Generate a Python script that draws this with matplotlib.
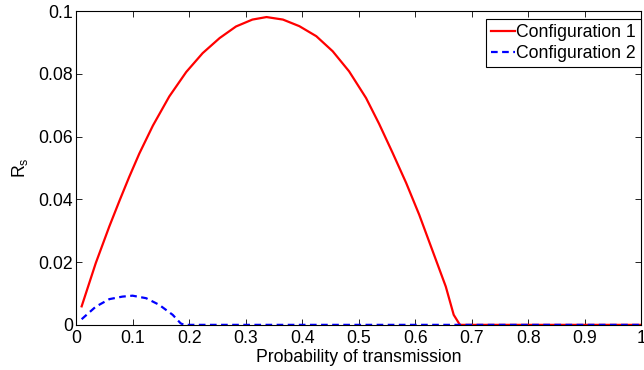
import numpy as np
import matplotlib
matplotlib.use("Agg")
import matplotlib.pyplot as plt

plt.rcParams["font.family"] = ["Liberation Sans", "DejaVu Sans"]

# Configuration 1
x1 = [0.01, 0.035, 0.059, 0.077, 0.094, 0.112, 0.136, 0.165, 0.195, 0.224, 0.254,
      0.283, 0.312, 0.337, 0.366, 0.395, 0.425, 0.454, 0.483, 0.513, 0.536,
      0.56, 0.584, 0.607, 0.63, 0.654, 0.668, 0.679, 0.7, 0.8, 0.9, 1.0]
r1 = [0.0059, 0.0197, 0.0314, 0.0396, 0.0471, 0.0546, 0.0635, 0.0728, 0.0806, 0.0866, 0.0914,
      0.0951, 0.0973, 0.0981, 0.0973, 0.0952, 0.092, 0.0872, 0.0808, 0.0723, 0.0641,
      0.0548, 0.0452, 0.0351, 0.0239, 0.0122, 0.0032, 0.0, 0.0, 0.0, 0.0, 0.0]

# Configuration 2
x2 = [0.01, 0.035, 0.059, 0.082, 0.1, 0.124, 0.147, 0.171, 0.185, 0.191, 0.4, 0.6, 0.8, 1.0]
r2 = [0.0018, 0.0058, 0.0082, 0.009, 0.0093, 0.0085, 0.0064, 0.0032, 0.0005, 0.0, 0.0, 0.0, 0.0, 0.0]

xticks = np.arange(0, 1.01, 0.1)
xlabels = ["0", "0.1", "0.2", "0.3", "0.4", "0.5", "0.6", "0.7", "0.8", "0.9", "1"]
yticks = [0, 0.02, 0.04, 0.06, 0.08, 0.1]
ylabels = ["0", "0.02", "0.04", "0.06", "0.08", "0.1"]

fs = 12.7

fig = plt.figure(figsize=(6.44, 3.70), dpi=100)
ax = fig.add_axes([0.118, 0.122, 0.878, 0.848])

ax.plot(x1, r1, color="#ff0000", lw=1.6, label="Configuration 1")
ax.plot(x2, r2, color="#0000ff", lw=1.6, ls=(0, (3, 2)), label="Configuration 2")

ax.set_xlim(0, 1)
ax.set_ylim(0, 0.1)
ax.set_xticks(xticks)
ax.set_xticklabels(xlabels)
ax.set_yticks(yticks)
ax.set_yticklabels(ylabels)
ax.tick_params(direction="in", top=True, right=True, length=4, width=0.6,
               labelsize=fs)
ax.tick_params(axis="x", pad=4)
ax.tick_params(axis="y", pad=2)
for s in ax.spines.values():
    s.set_linewidth(0.8)

ax.set_xlabel("Probability of transmission", fontsize=fs, labelpad=1)
ax.set_ylabel("R$_\\mathregular{s}$", fontsize=fs, labelpad=6)

leg = ax.legend(loc="upper right", bbox_to_anchor=(0.999, 0.9745), fontsize=fs,
                frameon=True, fancybox=False, edgecolor="black", framealpha=1,
                borderpad=0.27, handlelength=1.36, handletextpad=0.1,
                labelspacing=0.23, borderaxespad=0)
leg.get_frame().set_linewidth(0.8)

fig.savefig("out.png", dpi=100)
